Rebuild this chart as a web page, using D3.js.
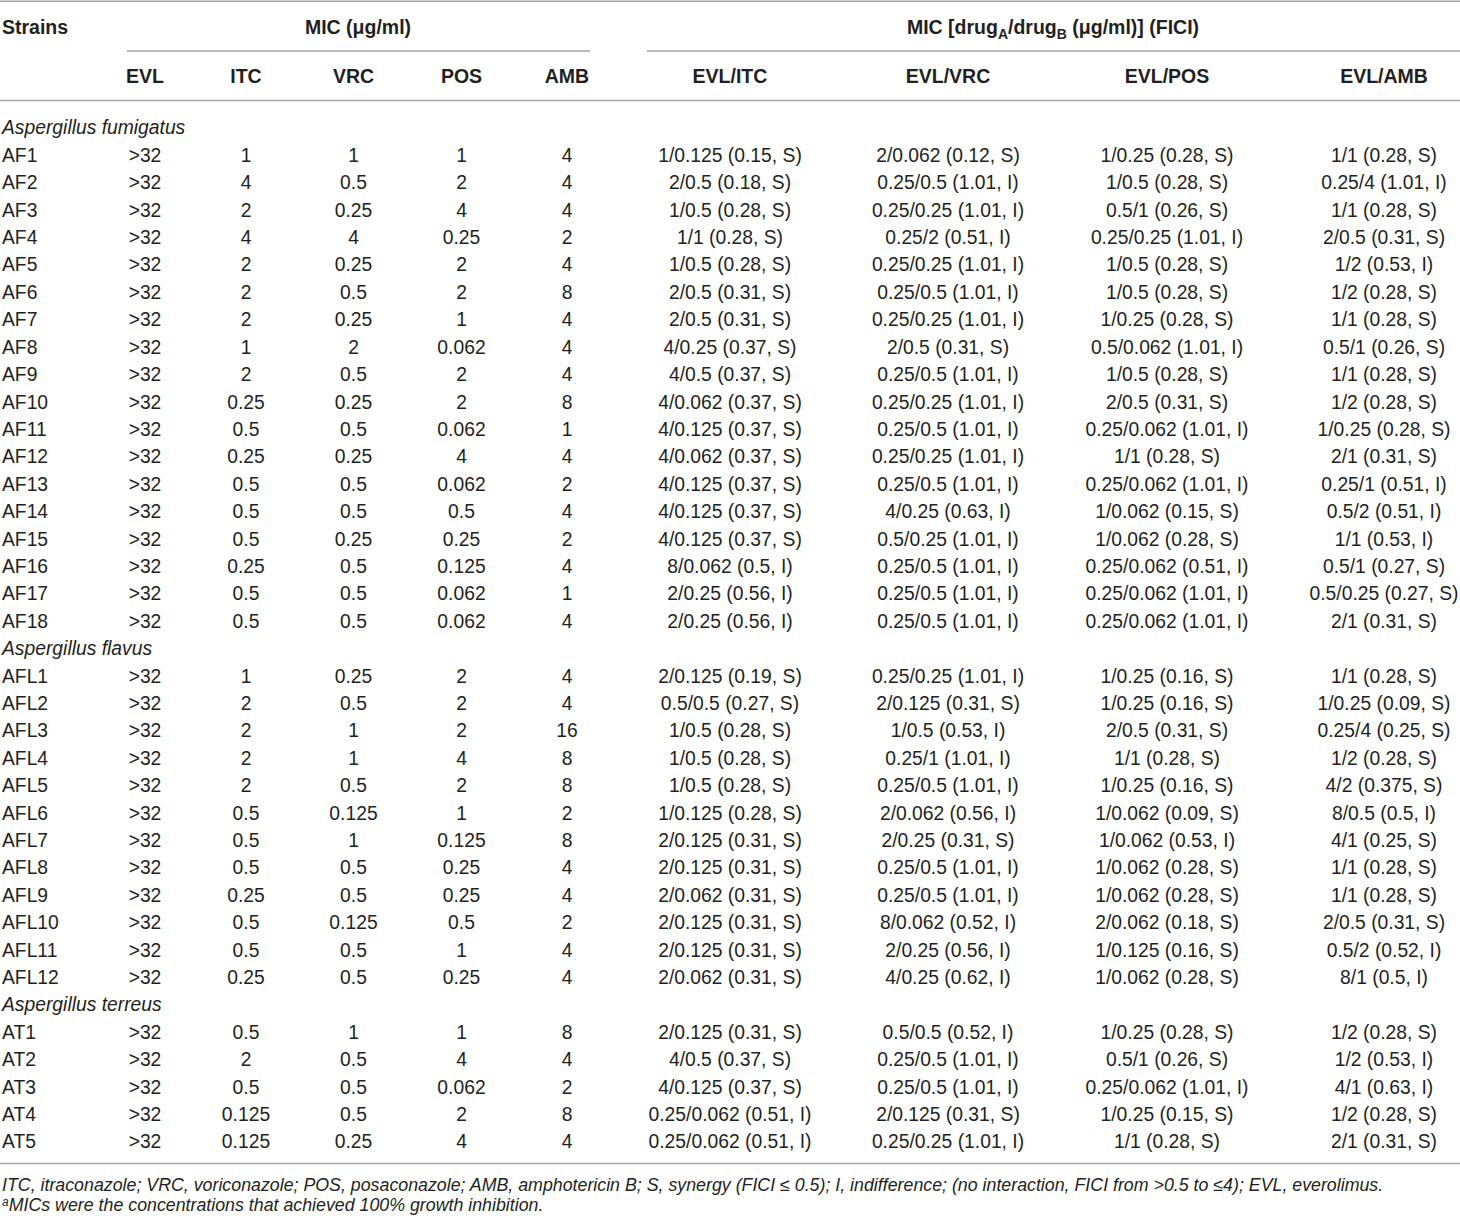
<!DOCTYPE html>
<html>
<head>
<meta charset="utf-8">
<script src="https://cdn.jsdelivr.net/npm/d3@7"></script>
<style>
  body { margin: 0; background: #fff; }
  svg { display: block; font-family: "Liberation Sans", Arial, Helvetica, sans-serif; }
</style>
</head>
<body>
<div id="table"></div>
<script>
// table content
var species = ["Aspergillus fumigatus", "Aspergillus flavus", "Aspergillus terreus"];
var speciesSizes = [18, 12, 5];

var strains = ["AF1","AF2","AF3","AF4","AF5","AF6","AF7","AF8","AF9","AF10","AF11","AF12","AF13","AF14","AF15","AF16","AF17","AF18",
  "AFL1","AFL2","AFL3","AFL4","AFL5","AFL6","AFL7","AFL8","AFL9","AFL10","AFL11","AFL12",
  "AT1","AT2","AT3","AT4","AT5"];

var micHeaders = ["EVL", "ITC", "VRC", "POS", "AMB"];
var comboHeaders = ["EVL/ITC", "EVL/VRC", "EVL/POS", "EVL/AMB"];

var micEVL = strains.map(function(){ return ">32"; });
var micITC = ["1","4","2","4","2","2","2","1","2","0.25","0.5","0.25","0.5","0.5","0.5","0.25","0.5","0.5",
  "1","2","2","2","2","0.5","0.5","0.5","0.25","0.5","0.5","0.25",
  "0.5","2","0.5","0.125","0.125"];
var micVRC = ["1","0.5","0.25","4","0.25","0.5","0.25","2","0.5","0.25","0.5","0.25","0.5","0.5","0.25","0.5","0.5","0.5",
  "0.25","0.5","1","1","0.5","0.125","1","0.5","0.5","0.125","0.5","0.5",
  "1","0.5","0.5","0.5","0.25"];
var micPOS = ["1","2","4","0.25","2","2","1","0.062","2","2","0.062","4","0.062","0.5","0.25","0.125","0.062","0.062",
  "2","2","2","4","2","1","0.125","0.25","0.25","0.5","1","0.25",
  "1","4","0.062","2","4"];
var micAMB = ["4","4","4","2","4","8","4","4","4","8","1","4","2","4","2","4","1","4",
  "4","4","16","8","8","2","8","4","4","2","4","4",
  "8","4","2","8","4"];

var comboITC = ["1/0.125 (0.15, S)","2/0.5 (0.18, S)","1/0.5 (0.28, S)","1/1 (0.28, S)","1/0.5 (0.28, S)","2/0.5 (0.31, S)",
  "2/0.5 (0.31, S)","4/0.25 (0.37, S)","4/0.5 (0.37, S)","4/0.062 (0.37, S)","4/0.125 (0.37, S)","4/0.062 (0.37, S)",
  "4/0.125 (0.37, S)","4/0.125 (0.37, S)","4/0.125 (0.37, S)","8/0.062 (0.5, I)","2/0.25 (0.56, I)","2/0.25 (0.56, I)",
  "2/0.125 (0.19, S)","0.5/0.5 (0.27, S)","1/0.5 (0.28, S)","1/0.5 (0.28, S)","1/0.5 (0.28, S)","1/0.125 (0.28, S)",
  "2/0.125 (0.31, S)","2/0.125 (0.31, S)","2/0.062 (0.31, S)","2/0.125 (0.31, S)","2/0.125 (0.31, S)","2/0.062 (0.31, S)",
  "2/0.125 (0.31, S)","4/0.5 (0.37, S)","4/0.125 (0.37, S)","0.25/0.062 (0.51, I)","0.25/0.062 (0.51, I)"];
var comboVRC = ["2/0.062 (0.12, S)","0.25/0.5 (1.01, I)","0.25/0.25 (1.01, I)","0.25/2 (0.51, I)","0.25/0.25 (1.01, I)","0.25/0.5 (1.01, I)",
  "0.25/0.25 (1.01, I)","2/0.5 (0.31, S)","0.25/0.5 (1.01, I)","0.25/0.25 (1.01, I)","0.25/0.5 (1.01, I)","0.25/0.25 (1.01, I)",
  "0.25/0.5 (1.01, I)","4/0.25 (0.63, I)","0.5/0.25 (1.01, I)","0.25/0.5 (1.01, I)","0.25/0.5 (1.01, I)","0.25/0.5 (1.01, I)",
  "0.25/0.25 (1.01, I)","2/0.125 (0.31, S)","1/0.5 (0.53, I)","0.25/1 (1.01, I)","0.25/0.5 (1.01, I)","2/0.062 (0.56, I)",
  "2/0.25 (0.31, S)","0.25/0.5 (1.01, I)","0.25/0.5 (1.01, I)","8/0.062 (0.52, I)","2/0.25 (0.56, I)","4/0.25 (0.62, I)",
  "0.5/0.5 (0.52, I)","0.25/0.5 (1.01, I)","0.25/0.5 (1.01, I)","2/0.125 (0.31, S)","0.25/0.25 (1.01, I)"];
var comboPOS = ["1/0.25 (0.28, S)","1/0.5 (0.28, S)","0.5/1 (0.26, S)","0.25/0.25 (1.01, I)","1/0.5 (0.28, S)","1/0.5 (0.28, S)",
  "1/0.25 (0.28, S)","0.5/0.062 (1.01, I)","1/0.5 (0.28, S)","2/0.5 (0.31, S)","0.25/0.062 (1.01, I)","1/1 (0.28, S)",
  "0.25/0.062 (1.01, I)","1/0.062 (0.15, S)","1/0.062 (0.28, S)","0.25/0.062 (0.51, I)","0.25/0.062 (1.01, I)","0.25/0.062 (1.01, I)",
  "1/0.25 (0.16, S)","1/0.25 (0.16, S)","2/0.5 (0.31, S)","1/1 (0.28, S)","1/0.25 (0.16, S)","1/0.062 (0.09, S)",
  "1/0.062 (0.53, I)","1/0.062 (0.28, S)","1/0.062 (0.28, S)","2/0.062 (0.18, S)","1/0.125 (0.16, S)","1/0.062 (0.28, S)",
  "1/0.25 (0.28, S)","0.5/1 (0.26, S)","0.25/0.062 (1.01, I)","1/0.25 (0.15, S)","1/1 (0.28, S)"];
var comboAMB = ["1/1 (0.28, S)","0.25/4 (1.01, I)","1/1 (0.28, S)","2/0.5 (0.31, S)","1/2 (0.53, I)","1/2 (0.28, S)",
  "1/1 (0.28, S)","0.5/1 (0.26, S)","1/1 (0.28, S)","1/2 (0.28, S)","1/0.25 (0.28, S)","2/1 (0.31, S)",
  "0.25/1 (0.51, I)","0.5/2 (0.51, I)","1/1 (0.53, I)","0.5/1 (0.27, S)","0.5/0.25 (0.27, S)","2/1 (0.31, S)",
  "1/1 (0.28, S)","1/0.25 (0.09, S)","0.25/4 (0.25, S)","1/2 (0.28, S)","4/2 (0.375, S)","8/0.5 (0.5, I)",
  "4/1 (0.25, S)","1/1 (0.28, S)","1/1 (0.28, S)","2/0.5 (0.31, S)","0.5/2 (0.52, I)","8/1 (0.5, I)",
  "1/2 (0.28, S)","1/2 (0.53, I)","4/1 (0.63, I)","1/2 (0.28, S)","2/1 (0.31, S)"];

var footnotes = [
  "ITC, itraconazole; VRC, voriconazole; POS, posaconazole; AMB, amphotericin B; S, synergy (FICI \u2264 0.5); I, indifference; (no interaction, FICI from >0.5 to \u22644); EVL, everolimus.",
  "MICs were the concentrations that achieved 100% growth inhibition."
];

// layout
var width = 1460, height = 1222;
var textColor = "#231f20", ruleColor = "#a3a3a3";
var fontSize = 19.3;

var svg = d3.select("#table").append("svg")
    .attr("width", width)
    .attr("height", height);

var cols = micHeaders.concat(comboHeaders);
var x = d3.scaleOrdinal()
    .domain(cols)
    .range([145, 246, 353.5, 461.5, 567, 730, 948, 1167, 1384]);
var values = [micEVL, micITC, micVRC, micPOS, micAMB, comboITC, comboVRC, comboPOS, comboAMB];

// build body rows: species label rows plus strain rows
var rows = [];
var k = 0;
species.forEach(function(sp, i){
    rows.push({ type: "species", label: sp });
    for (var j = 0; j < speciesSizes[i]; j++) {
        rows.push({ type: "strain", label: strains[k], idx: k });
        k++;
    }
});

var y = d3.scalePoint()
    .domain(d3.range(rows.length))
    .range([127.7, 1141.7]);

// rules
function rule(x1, x2, yy){
    svg.append("line")
        .attr("x1", x1).attr("x2", x2)
        .attr("y1", yy).attr("y2", yy)
        .attr("stroke", ruleColor)
        .attr("stroke-width", 1.6);
}
rule(0, width, 1.2);
rule(127, 590, 51);
rule(647, width, 51);
rule(0, width, 100.5);
rule(0, width, 1163.5);

// header
var head = svg.append("g")
    .attr("font-weight", "bold")
    .attr("font-size", 19.5)
    .attr("fill", textColor);

head.append("text")
    .attr("x", 2).attr("y", 27).attr("dy", "0.35em")
    .text("Strains");

head.append("text")
    .attr("x", 358).attr("y", 27).attr("dy", "0.35em")
    .attr("text-anchor", "middle")
    .text("MIC (\u03bcg/ml)");

var g2 = head.append("text")
    .attr("x", 1053).attr("y", 27).attr("dy", "0.35em")
    .attr("text-anchor", "middle");
g2.append("tspan").text("MIC [drug");
g2.append("tspan").attr("font-size", 14).attr("dy", 5).text("A");
g2.append("tspan").attr("dy", -5).text("/drug");
g2.append("tspan").attr("font-size", 14).attr("dy", 5).text("B");
g2.append("tspan").attr("dy", -5).text(" (\u03bcg/ml)] (FICI)");

head.selectAll("text.col")
    .data(cols)
    .enter()
        .append("text")
        .attr("class", "col")
        .attr("x", function(d){ return x(d); })
        .attr("y", 76)
        .attr("dy", "0.35em")
        .attr("text-anchor", "middle")
        .text(function(d){ return d; });

// body
var body = svg.append("g")
    .attr("font-size", fontSize)
    .attr("fill", textColor);

var rowG = body.selectAll("g.row")
    .data(rows)
    .enter()
        .append("g")
        .attr("class", "row")
        .attr("transform", function(d, i){ return "translate(0," + y(i) + ")"; });

rowG.append("text")
    .attr("x", 2)
    .attr("dy", "0.35em")
    .attr("font-style", function(d){ return d.type === "species" ? "italic" : null; })
    .text(function(d){ return d.label; });

rowG.filter(function(d){ return d.type === "strain"; })
    .selectAll("text.cell")
    .data(function(d){
        return cols.map(function(c, ci){ return { col: c, value: values[ci][d.idx] }; });
    })
    .enter()
        .append("text")
        .attr("class", "cell")
        .attr("x", function(d){ return x(d.col); })
        .attr("dy", "0.35em")
        .attr("text-anchor", "middle")
        .text(function(d){ return d.value; });

// footnotes
var foot = svg.append("g")
    .attr("font-size", 17.8)
    .attr("font-style", "italic")
    .attr("fill", textColor);

foot.append("text")
    .attr("x", 2).attr("y", 1185).attr("dy", "0.35em")
    .text(footnotes[0]);

var f2 = foot.append("text")
    .attr("x", 2).attr("y", 1211).attr("dy", "0.35em");
f2.append("tspan").attr("font-size", 12).attr("dy", -5).text("a");
f2.append("tspan").attr("dy", 5).text(footnotes[1]);
</script>
</body>
</html>
